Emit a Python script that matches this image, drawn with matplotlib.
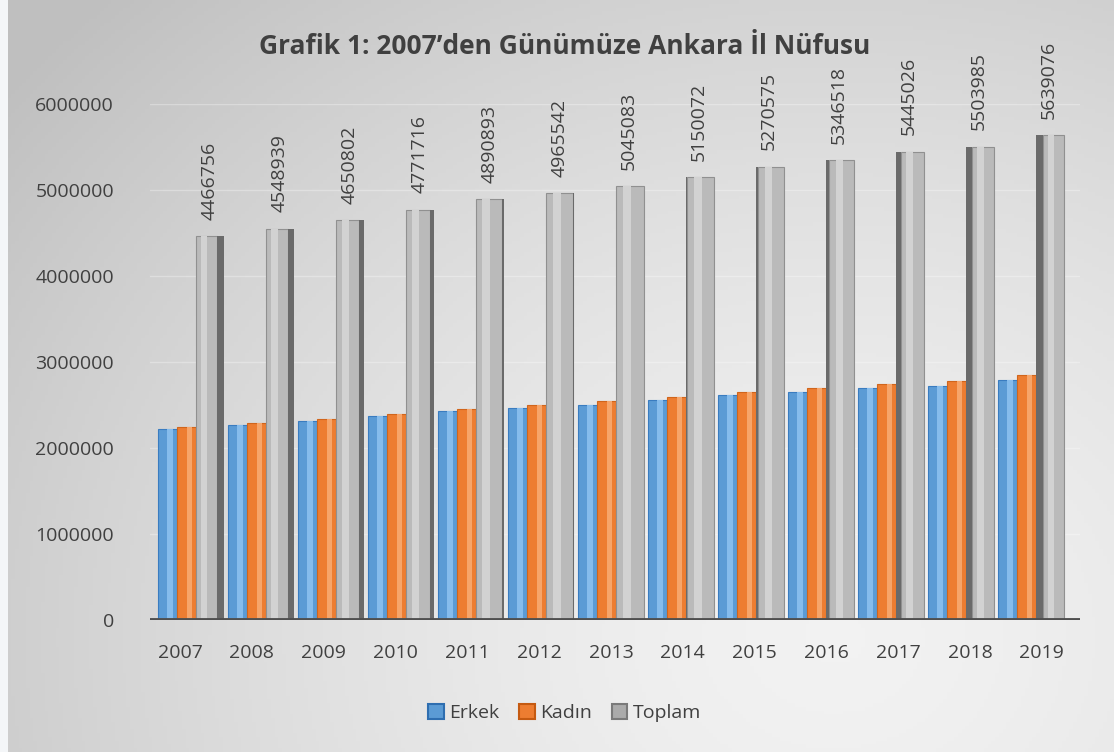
import numpy as np
import matplotlib
matplotlib.use("Agg")
import matplotlib.pyplot as plt
from matplotlib.patches import Patch

plt.rcParams['font.family'] = ['Open Sans', 'DejaVu Sans']

years = ['2007', '2008', '2009', '2010', '2011', '2012', '2013',
         '2014', '2015', '2016', '2017', '2018', '2019']
erkek = [2222000, 2262000, 2313000, 2372000, 2432000, 2467000, 2504000,
         2555000, 2614000, 2650000, 2698000, 2725000, 2790000]
kadin = [2244756, 2286939, 2337802, 2399716, 2458893, 2498542, 2541083,
         2595072, 2656575, 2696518, 2747026, 2778985, 2849076]
toplam = [4466756, 4548939, 4650802, 4771716, 4890893, 4965542, 5045083,
          5150072, 5270575, 5346518, 5445026, 5503985, 5639076]
yticks = [0, 1000000, 2000000, 3000000, 4000000, 5000000, 6000000]

fig = plt.figure(figsize=(11.14, 7.52), dpi=100)

# soft radial gradient background (light at bottom right, darker top left)
bg = fig.add_axes([0, 0, 1, 1], zorder=-10)
gx, gy = np.meshgrid(np.linspace(0, 1, 300), np.linspace(0, 1, 200))
r = np.sqrt(((gx - 0.75) * 1.0) ** 2 + ((gy - 0.85) * 0.8) ** 2)
shade = 0.95 - 0.20 * np.clip(r / 0.95, 0, 1) ** 1.5
rgb = np.dstack([shade, shade, shade])
bg.imshow(rgb, aspect='auto', extent=[0, 1, 0, 1], origin='upper')
bg.add_patch(plt.Rectangle((0, 0), 0.007, 1, color='#f4f6f8', lw=0))
bg.set_xlim(0, 1)
bg.set_ylim(0, 1)
bg.axis('off')

ax = fig.add_axes([150 / 1114, 1 - 620 / 752, 930 / 1114, 516 / 752])
ax.patch.set_alpha(0)
x = np.arange(len(years))

# faint grid
for t in yticks[1:]:
    ax.axhline(t, color='white', lw=1.0, alpha=0.3, zorder=0)

side = 0.1 * (6 - x) / 6  # perspective side width (+ right, - left)

# Erkek
ax.bar(x - 0.335, erkek, width=0.27, color='#5b9bd5', edgecolor='#3a7cc0',
       linewidth=0.8, zorder=2)
ax.bar(x - 0.30, erkek, width=0.08, color='#86bcec', linewidth=0, zorder=3)
# Kadın
ax.bar(x - 0.065, kadin, width=0.27, color='#ed7d31', edgecolor='#d0651c',
       linewidth=0.8, zorder=2)
ax.bar(x - 0.02, kadin, width=0.08, color='#f6a56a', linewidth=0, zorder=3)
# Toplam: front face + dark perspective side
front_l = np.where(side > 0, 0.07, 0.07 - side)
front_w = 0.40 - np.abs(side)
ax.bar(x + front_l, toplam, width=front_w, align='edge', color='#bababa',
       edgecolor='#909090', linewidth=0.8, zorder=2)
ax.bar(x + front_l + front_w * 0.25, toplam, width=front_w * 0.3, align='edge',
       color='#d2d2d2', linewidth=0, zorder=3)
side_l = np.where(side > 0, 0.07 + front_w, 0.07)
ax.bar(x + side_l, toplam, width=np.abs(side), align='edge', color='#6a6a6a',
       linewidth=0, zorder=2)

for xi, v in zip(x, toplam):
    ax.text(xi + 0.26, v + 190000, str(v), rotation=90, ha='center',
            va='bottom', fontsize=14, color='#404040')

ax.axhline(0, color='#4f4f4f', lw=3.5, zorder=4)

ax.set_xlim(-0.586, 12.7)
ax.set_ylim(0, 6000000)
ax.set_xticks(x * 1.026 - 0.157)
ax.set_xticklabels(years)
ax.set_yticks(yticks)
ax.set_yticklabels([str(t) for t in yticks])
ax.tick_params(axis='both', length=0, labelsize=14, colors='#404040')
ax.tick_params(axis='y', pad=26)
ax.tick_params(axis='x', pad=17)
for s in ax.spines.values():
    s.set_visible(False)

fig.text(0.507, 0.938, 'Grafik 1: 2007\u2019den G\u00fcn\u00fcm\u00fcze Ankara \u0130l N\u00fcfusu',
         ha='center', va='center', fontsize=19, fontweight='bold',
         color='#404040')

handles = [Patch(facecolor='#5b9bd5', edgecolor='#2e6eb0', lw=1.5, label='Erkek'),
           Patch(facecolor='#ed7d31', edgecolor='#c55a11', lw=1.5, label='Kad\u0131n'),
           Patch(facecolor='#ababab', edgecolor='#7a7a7a', lw=1.5, label='Toplam')]
leg = fig.legend(handles=handles, loc='center', bbox_to_anchor=(0.507, 0.052),
                 ncol=3, frameon=False, fontsize=14, handlelength=0.8,
                 handleheight=0.8, handletextpad=0.3, columnspacing=1.0)
for t in leg.get_texts():
    t.set_color('#404040')

fig.savefig('out.png', dpi=100)
